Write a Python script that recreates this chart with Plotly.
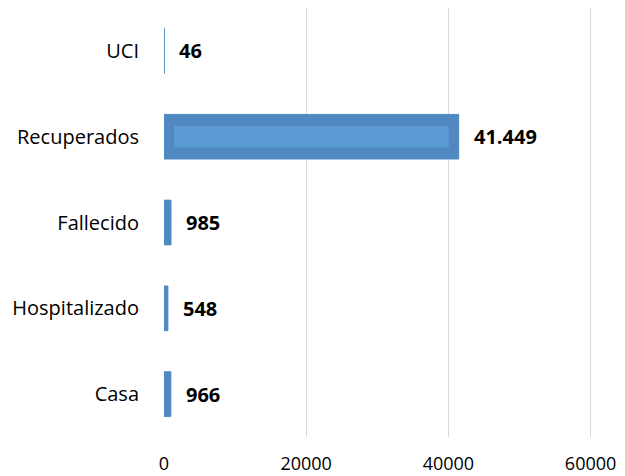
import plotly.graph_objects as go

categorias = ["Casa", "Hospitalizado", "Fallecido", "Recuperados", "UCI"]
valores = [966, 548, 985, 41449, 46]
ticks_x = [0, 20000, 40000, 60000]

etiquetas = [f"{v:,}".replace(",", ".") for v in valores]

# efecto "bisel" de Excel: rectángulo interior más claro en barras largas
bisel = 1400
interior = [v - 2 * bisel if v > 4 * bisel else 0 for v in valores]

fig = go.Figure()
fig.add_trace(go.Bar(
    x=valores, y=categorias, orientation="h", width=0.52,
    marker=dict(color="#5088C1", line=dict(color="#5088C1", width=1)),
    hoverinfo="skip",
))
fig.add_trace(go.Bar(
    x=interior, y=categorias, base=bisel, orientation="h", width=0.25,
    marker=dict(color="#5B9AD5", line=dict(width=0)),
    hoverinfo="skip",
))

for v, c, t in zip(valores, categorias, etiquetas):
    fig.add_annotation(x=v, y=c, text="<b>" + t + "</b>", showarrow=False,
                       xanchor="left", xshift=13,
                       font=dict(size=20, color="#000000", family="Open Sans"))

# la página añade 8px de margen al cuerpo
fig.update_layout(
    width=617, height=468,
    margin=dict(l=156, r=33, t=0, b=39),
    plot_bgcolor="white", paper_bgcolor="white",
    barmode="overlay",
    showlegend=False,
    font=dict(family="Open Sans", size=20, color="#000000"),
    xaxis=dict(range=[0, 60200], tickvals=ticks_x, tickformat="d",
               tickfont=dict(size=18),
               showgrid=True, gridcolor="#D9D9D9", gridwidth=1,
               zeroline=False, showline=False, automargin=False,
               ticks="outside", ticklen=10, tickcolor="rgba(0,0,0,0)"),
    yaxis=dict(showgrid=False, zeroline=False, showline=False, automargin=False,
               ticks="outside", ticklen=20, tickcolor="rgba(0,0,0,0)"),
)

fig.write_html("out.html")
